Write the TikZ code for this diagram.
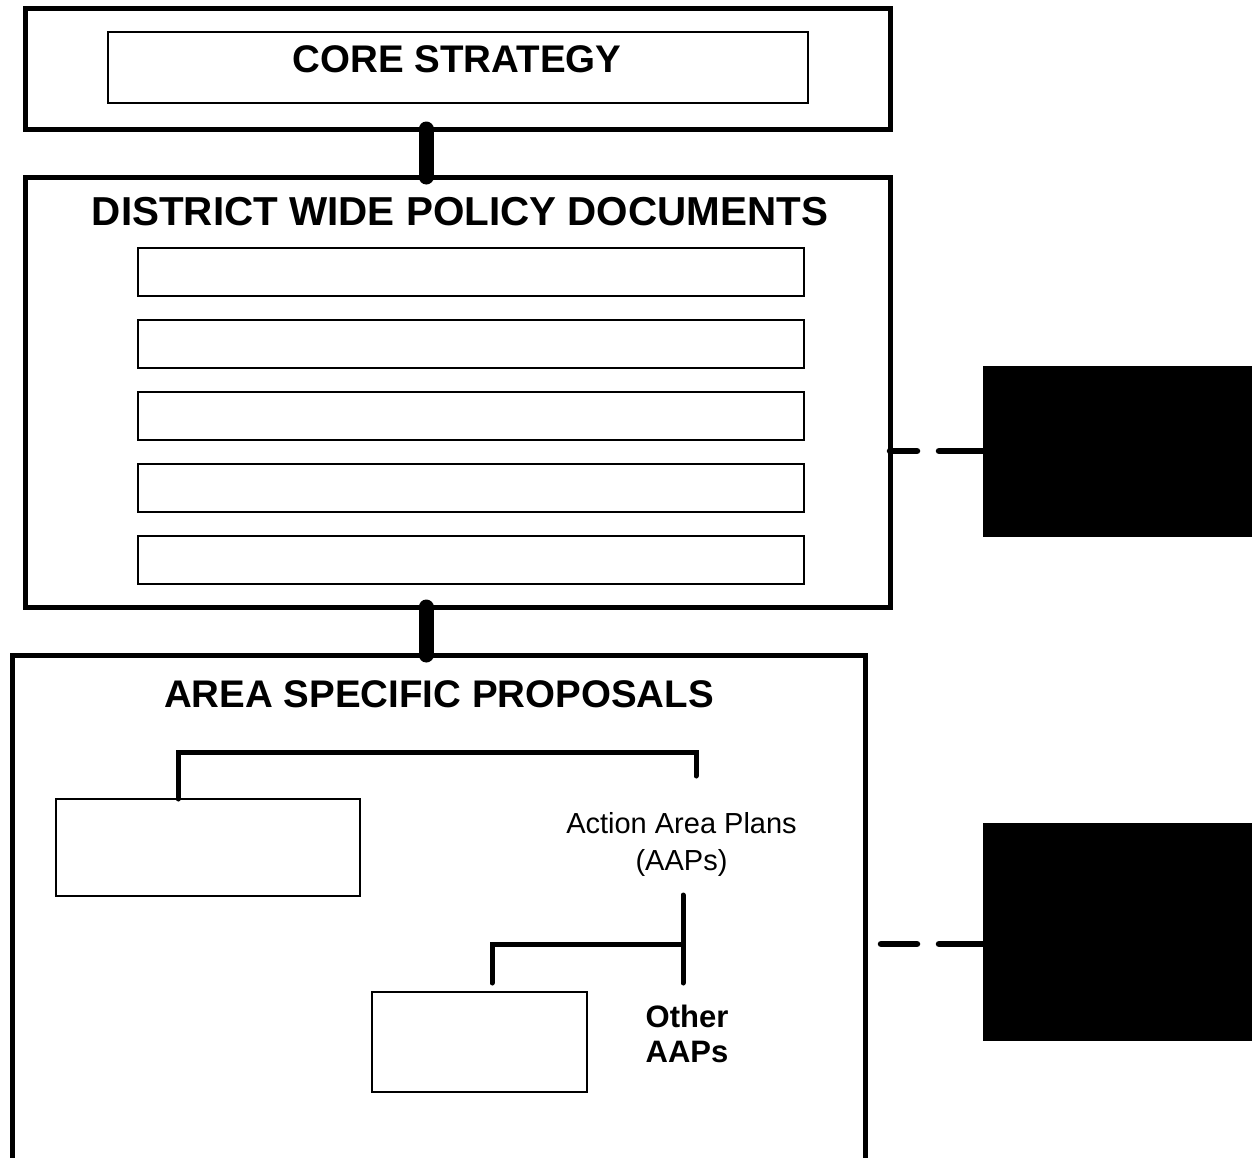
\documentclass[tikz,border=0pt]{standalone}
\usepackage{fontspec}
\setmainfont{Liberation Sans}
\tikzset{
  frame/.style={draw, line width=5pt, inner sep=0pt, outer sep=0pt},
  slot/.style={draw, line width=1.6pt, inner sep=0pt, outer sep=0pt},
  blackbox/.style={draw, fill=black, inner sep=0pt, outer sep=0pt},
  heading/.style={font=\fontsize{38.5}{46}\selectfont\bfseries, inner sep=0pt, anchor=base},
  link/.style={line width=15pt, line cap=round},
  dashlink/.style={line width=6.5pt, line cap=round, dash pattern=on 44pt off 22pt on 36pt off 30pt},
  bracket/.style={line width=5pt, line cap=round}
}
\begin{document}
\begin{tikzpicture}[x=1pt, y=-1pt]
  \useasboundingbox (0,0) rectangle (1257,1157);

  \node[frame, minimum width=865pt, minimum height=121pt] (core) at (457.5,68.5) {};
  \node[slot, minimum width=700pt, minimum height=71pt] (coreslot) at (458,67.5) {};
  \node[heading] (coretitle) at (457,72) {CORE STRATEGY};

  \node[frame, minimum width=865pt, minimum height=430pt] (district) at (457.5,392) {};
  \node[heading, font=\fontsize{40.4}{46}\selectfont\bfseries] (districttitle) at (460,225) {DISTRICT WIDE POLICY DOCUMENTS};
  \foreach \i/\y in {1/272, 2/344, 3/416, 4/488, 5/560}
    \node[slot, minimum width=666pt, minimum height=48pt] (doc\i) at (471,\y) {};

  \node[frame, minimum width=853pt, minimum height=520pt] (area) at (438.5,915) {};
  \node[heading] (areatitle) at (439,707) {AREA SPECIFIC PROPOSALS};
  \node[slot, minimum width=304pt, minimum height=97pt] (planbox) at (208,847.5) {};
  \node[slot, minimum width=215pt, minimum height=100pt] (subbox) at (479.5,1042) {};
  \node[font=\fontsize{29}{37}\selectfont, align=center, anchor=north, inner sep=0pt] (aaps) at (681.5,812) {Action Area Plans\\(AAPs)};
  \node[font=\fontsize{31}{35}\selectfont\bfseries, align=center, anchor=north, inner sep=0pt] (otheraaps) at (687,1005) {Other\\AAPs};

  \node[blackbox, minimum width=268pt, minimum height=170pt] (black1) at (1117,451) {};
  \node[blackbox, minimum width=268pt, minimum height=217pt] (black2) at (1117,931.5) {};

  \draw[link] (core.south -| 426,0) -- (district.north -| 426,0);
  \draw[link] (district.south -| 426,0) -- (area.north -| 426,0);

  \coordinate (tap2) at (983,944);
  \draw[dashlink] (black1.west) -- (black1.west -| district.east);
  \draw[dashlink] (tap2) -- (tap2 -| area.east);

  \coordinate (bend) at (178,752);
  \coordinate (aapstem) at (696,776);
  \draw[bracket] (planbox.north -| bend) -- (bend) -| (aapstem);

  \coordinate (stemtop) at (683,895);
  \coordinate (fork) at (683,944);
  \coordinate (subtop) at (492,983);
  \draw[bracket] (stemtop) -- (stemtop |- subtop);
  \draw[bracket] (fork) -| (subtop);
\end{tikzpicture}
\end{document}
